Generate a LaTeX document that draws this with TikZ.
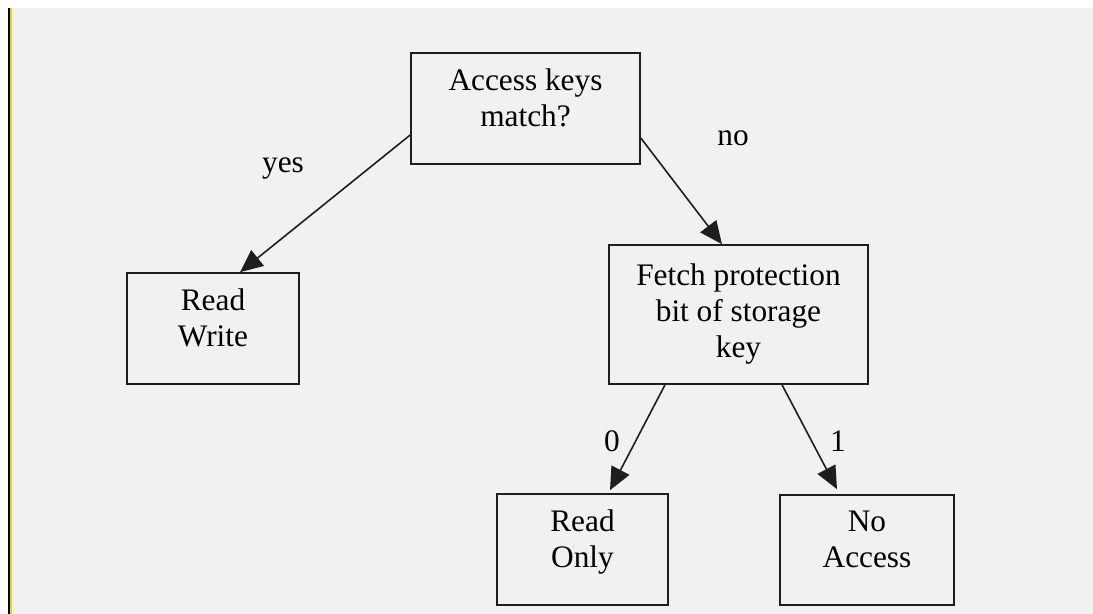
\documentclass[tikz,border=0pt]{standalone}
\usepackage{fontspec}
\setmainfont{Liberation Serif}
\usetikzlibrary{positioning,arrows.meta,calc}
\definecolor{PageGray}{RGB}{241,241,241}
\definecolor{EdgeYellow}{RGB}{228,222,0}
\definecolor{LineGray}{RGB}{30,30,30}
\tikzset{
  flow/.style={-{Triangle[length=17pt,width=15pt]},line width=1.2pt,draw=LineGray},
  box/.style={draw=LineGray,line width=1.2pt,fill=PageGray,align=center,
    inner sep=0pt,font=\fontsize{23.5}{27}\selectfont},
  twoline/.style={text depth=16pt},
  edgelabel/.style={inner sep=0pt,font=\fontsize{23.5}{27}\selectfont}
}

\begin{document}
\begin{tikzpicture}[x=0.75pt,y=-0.75pt]
  \useasboundingbox (0,0) rectangle (1093,614);
  % page and left margin bar
  \fill[white] (0,0) rectangle (1093,614);
  \fill[PageGray] (12,8) rectangle (1093,614);
  \fill[black] (8,8) rectangle (10,614);
  \fill[EdgeYellow] (10,8) rectangle (12,614);

  \node[box,twoline,minimum width=171.75pt,minimum height=83.25pt] (access) at (525.5,108.5) {Access keys\\match?};
  \node[box,twoline,minimum width=129pt,minimum height=83.25pt] (readwrite) at (213,328.5) {Read\\Write};
  \node[box,minimum width=194.25pt,minimum height=104.25pt] (fetch) at (738.5,314.5) {Fetch protection\\bit of storage\\key};
  \node[box,twoline,minimum width=128.25pt,minimum height=83.25pt] (readonly) at (582.5,549.5) {Read\\Only};
  \node[box,twoline,minimum width=130.5pt,minimum height=82.5pt] (noaccess) at (867,550) {No\\Access};

  \draw[flow] ($(access.west)+(0,26.5)$) -- ($(readwrite.north)+(27,0)$);
  \draw[flow] ($(access.east)+(0,29.5)$) -- ($(fetch.north)+(-16.5,0)$);
  \draw[flow] ($(fetch.south)+(-73.5,0)$) -- ($(readonly.north)+(27.5,-3)$);
  \draw[flow] ($(fetch.south)+(43.5,0)$) -- ($(noaccess.north)+(-30,-5)$);

  \node[edgelabel] (yes) at (283,168) {yes};
  \node[edgelabel] (no) at (733,138) {no};
  \node[edgelabel] (zero) at (612,441) {0};
  \node[edgelabel] (one) at (838,441) {1};
\end{tikzpicture}
\end{document}
